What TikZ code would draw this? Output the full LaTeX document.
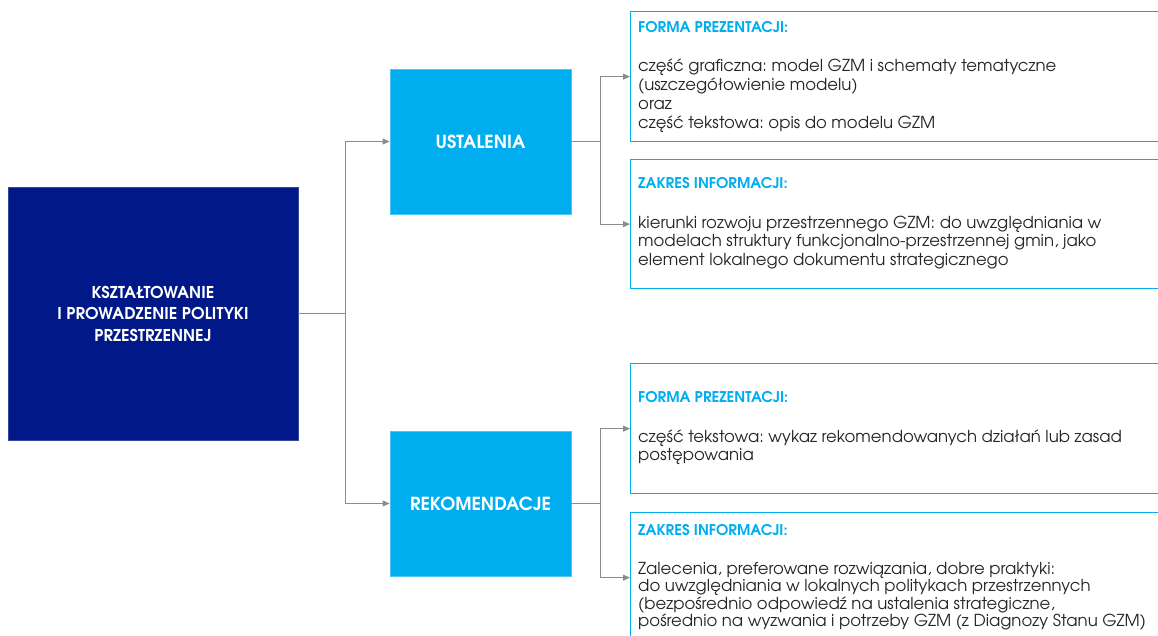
\documentclass[tikz,border=0pt]{standalone}
\usepackage{fontspec}
\setmainfont{texgyreadventor}[Extension=.otf, UprightFont=*-regular, BoldFont=*-bold]
\frenchspacing
\usetikzlibrary{arrows.meta}
\definecolor{navy}{RGB}{0,24,136}
\definecolor{cyanbox}{RGB}{0,174,239}
\definecolor{connc}{RGB}{140,140,140}
\definecolor{txt}{RGB}{38,38,38}
\tikzset{
  mainbox/.style={rectangle, fill=navy, draw=navy!80!white, line width=0.8pt, text=white, font=\bfseries\fontsize{16.3}{21.5}\selectfont, align=center, inner sep=0pt},
  catbox/.style={rectangle, fill=cyanbox, draw=cyanbox!70!white, line width=0.8pt, text=white, font=\bfseries\fontsize{18}{20}\selectfont, inner sep=0pt, minimum width=181pt, minimum height=145pt},
  infobox/.style={rectangle, draw=cyanbox, line width=1.3pt, fill=white, inner sep=0pt, minimum width=540pt},
  head/.style={anchor=base west, inner sep=0pt, text=cyanbox, font=\bfseries\fontsize{14.8}{17}\selectfont},
  body/.style={anchor=base west, inner sep=0pt, text=txt, font=\fontsize{16.5}{19}\selectfont},
  conn/.style={draw=connc, line width=1pt},
  arr/.style={conn, -{Triangle[length=7pt,width=6pt]}}
}
\begin{document}
\begin{tikzpicture}[x=1pt,y=-1pt]
\useasboundingbox (0,0) rectangle (1158,635);
\clip (0,0) rectangle (1158,635);
\fill[white] (0,0) rectangle (1158,635);

% left / middle boxes
\node[mainbox, minimum width=290pt, minimum height=253pt] (main) at (153,313.5)
  {KSZTAŁTOWANIE\\I PROWADZENIE POLITYKI\\PRZESTRZENNEJ};
\node[catbox] (ust) at (480.5,141.5) {USTALENIA};
\node[catbox] (rek) at (480.5,503.5) {REKOMENDACJE};

% right boxes
\node[infobox, minimum height=130pt, anchor=north west] (f1) at (630,11) {};
\node[infobox, minimum height=129pt, anchor=north west] (z1) at (630,159) {};
\node[infobox, minimum height=130pt, anchor=north west] (f2) at (630,363) {};
\node[infobox, minimum height=130pt, anchor=north west] (z2) at (630,512) {};

% texts
\node[head] (f1h) at (638,32) {FORMA PREZENTACJI:};
\node[body] (f1b) at (638,71) {\vtop{\baselineskip=19pt
  \hbox{część graficzna: model GZM i schematy tematyczne}
  \hbox{(uszczegółowienie modelu)}
  \hbox{oraz}
  \hbox{część tekstowa: opis do modelu GZM}}};

\node[head] (z1h) at (638,188) {ZAKRES INFORMACJI:};
\node[body] (z1b) at (638,228) {\vtop{\baselineskip=18.5pt
  \hbox{kierunki rozwoju przestrzennego GZM: do uwzględniania w}
  \hbox{modelach struktury funkcjonalno-przestrzennej gmin, jako}
  \hbox{element lokalnego dokumentu strategicznego}}};

\node[head] (f2h) at (638,402) {FORMA PREZENTACJI:};
\node[body] (f2b) at (638,442) {\vtop{\baselineskip=18.5pt
  \hbox{część tekstowa: wykaz rekomendowanych działań lub zasad}
  \hbox{postępowania}}};

\node[head] (z2h) at (638,535) {ZAKRES INFORMACJI:};
\node[body] (z2b) at (638,574) {\vtop{\baselineskip=15.3pt
  \hbox{Zalecenia, preferowane rozwiązania, dobre praktyki:}
  \hbox{do uwzględniania w lokalnych politykach przestrzennych}
  \hbox{(bezpośrednio odpowiedź na ustalenia strategiczne,}
  \hbox{pośrednio na wyzwania i potrzeby GZM (z Diagnozy Stanu GZM)}}};

% connectors
\coordinate (j1) at (345,313.5);
\coordinate (j2) at (600,141.5);
\coordinate (j3) at (600,503.5);
\draw[conn] (main.east) -- (j1);
\draw[arr] (j1) |- (ust.west);
\draw[arr] (j1) |- (rek.west);
\draw[conn] (ust.east) -- (j2);
\draw[arr] (j2) |- (f1.west);
\draw[arr] (j2) |- (z1.west);
\draw[conn] (rek.east) -- (j3);
\draw[arr] (j3) |- (f2.west);
\draw[arr] (j3) |- (z2.west);
\end{tikzpicture}
\end{document}
